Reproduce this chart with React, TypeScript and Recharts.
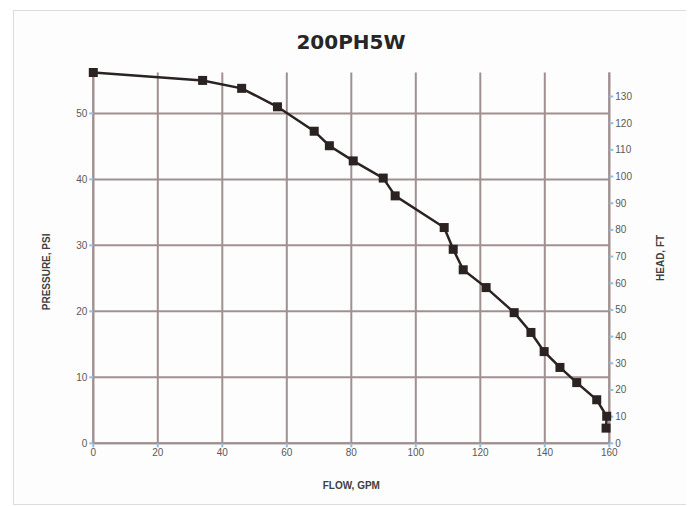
import React from "react";
import { LineChart, Line, XAxis, YAxis, CartesianGrid } from "recharts";

const FLOW = [0, 33.9, 46, 57.1, 68.5, 73.2, 80.6, 89.9, 93.6, 108.8, 111.6, 114.7, 121.8, 130.5, 135.7, 139.8, 144.7, 149.9, 156.1, 159.2, 159];
const PSI = [56.2, 55.0, 53.8, 51.0, 47.3, 45.1, 42.8, 40.2, 37.5, 32.7, 29.4, 26.3, 23.6, 19.8, 16.8, 13.9, 11.5, 9.2, 6.6, 4.1, 2.3];
const FLOW_TICKS = [0, 20, 40, 60, 80, 100, 120, 140, 160];
const PSI_TICKS = [0, 10, 20, 30, 40, 50];
const HEAD_TICKS = [0, 10, 20, 30, 40, 50, 60, 70, 80, 90, 100, 110, 120, 130];

const data = FLOW.map((f, i) => ({ flow: f, psi: PSI[i] }));

const GRID = "#a09090";
const TICK = { fontSize: 10, fill: "#595959", fontFamily: "Liberation Sans, Arial, sans-serif" };
const LABEL = { fontSize: 10, fontWeight: "bold", fill: "#404040", fontFamily: "Liberation Sans, Arial, sans-serif", textAnchor: "middle" } as any;

const SquareDot = (props: any) => {
  const { cx, cy, index } = props;
  if (cx == null || cy == null) return null;
  return <rect key={index} x={cx - 4.5} y={cy - 4.5} width={9} height={9} fill="#2b2222" />;
};

export default function App() {
  return (
    <div style={{ marginLeft: 5, marginTop: 2, width: 674, height: 493, border: "1px solid #dcdcdc", background: "#fdfdfd", position: "relative" }}>
      <div style={{ position: "absolute", left: 0, right: 0, top: 19, textAlign: "center", fontFamily: "DejaVu Sans, sans-serif", fontWeight: "bold", fontSize: 20, color: "#262626" }}>
        200PH5W
      </div>
      <LineChart width={672} height={491} data={data} margin={{ top: 61.5, right: 10, bottom: 10, left: 10 }}>
        <CartesianGrid stroke={GRID} strokeWidth={2} yAxisId="left" horizontalValues={PSI_TICKS} verticalValues={FLOW_TICKS} />
        <XAxis
          dataKey="flow" type="number" domain={[0, 160]} ticks={FLOW_TICKS} height={48.7}
          stroke={GRID} strokeWidth={2} tick={TICK} tickLine={{ stroke: "#8fbfe0" }} tickSize={4}
          label={{ value: "FLOW, GPM", position: "insideBottom", offset: 3, style: LABEL }}
        />
        <YAxis
          yAxisId="left" domain={[0, 56]} ticks={PSI_TICKS} width={69.3}
          stroke={GRID} strokeWidth={2} tick={TICK} tickLine={{ stroke: "#8fbfe0" }} tickSize={4}
          label={{ value: "PRESSURE, PSI", angle: -90, position: "insideLeft", offset: 22, dy: 14, style: LABEL }}
        />
        <YAxis
          yAxisId="right" orientation="right" domain={[0, 139]} ticks={HEAD_TICKS} width={66.7} allowDataOverflow
          stroke={GRID} strokeWidth={2} tick={TICK} tickLine={{ stroke: "#8fbfe0" }} tickSize={4}
          label={{ value: "HEAD, FT", angle: -90, position: "insideRight", offset: 16, style: LABEL }}
        />
        <Line
          yAxisId="left" dataKey="psi" stroke="#2b2222" strokeWidth={2.5}
          dot={<SquareDot />} isAnimationActive={false}
        />
      </LineChart>
    </div>
  );
}
